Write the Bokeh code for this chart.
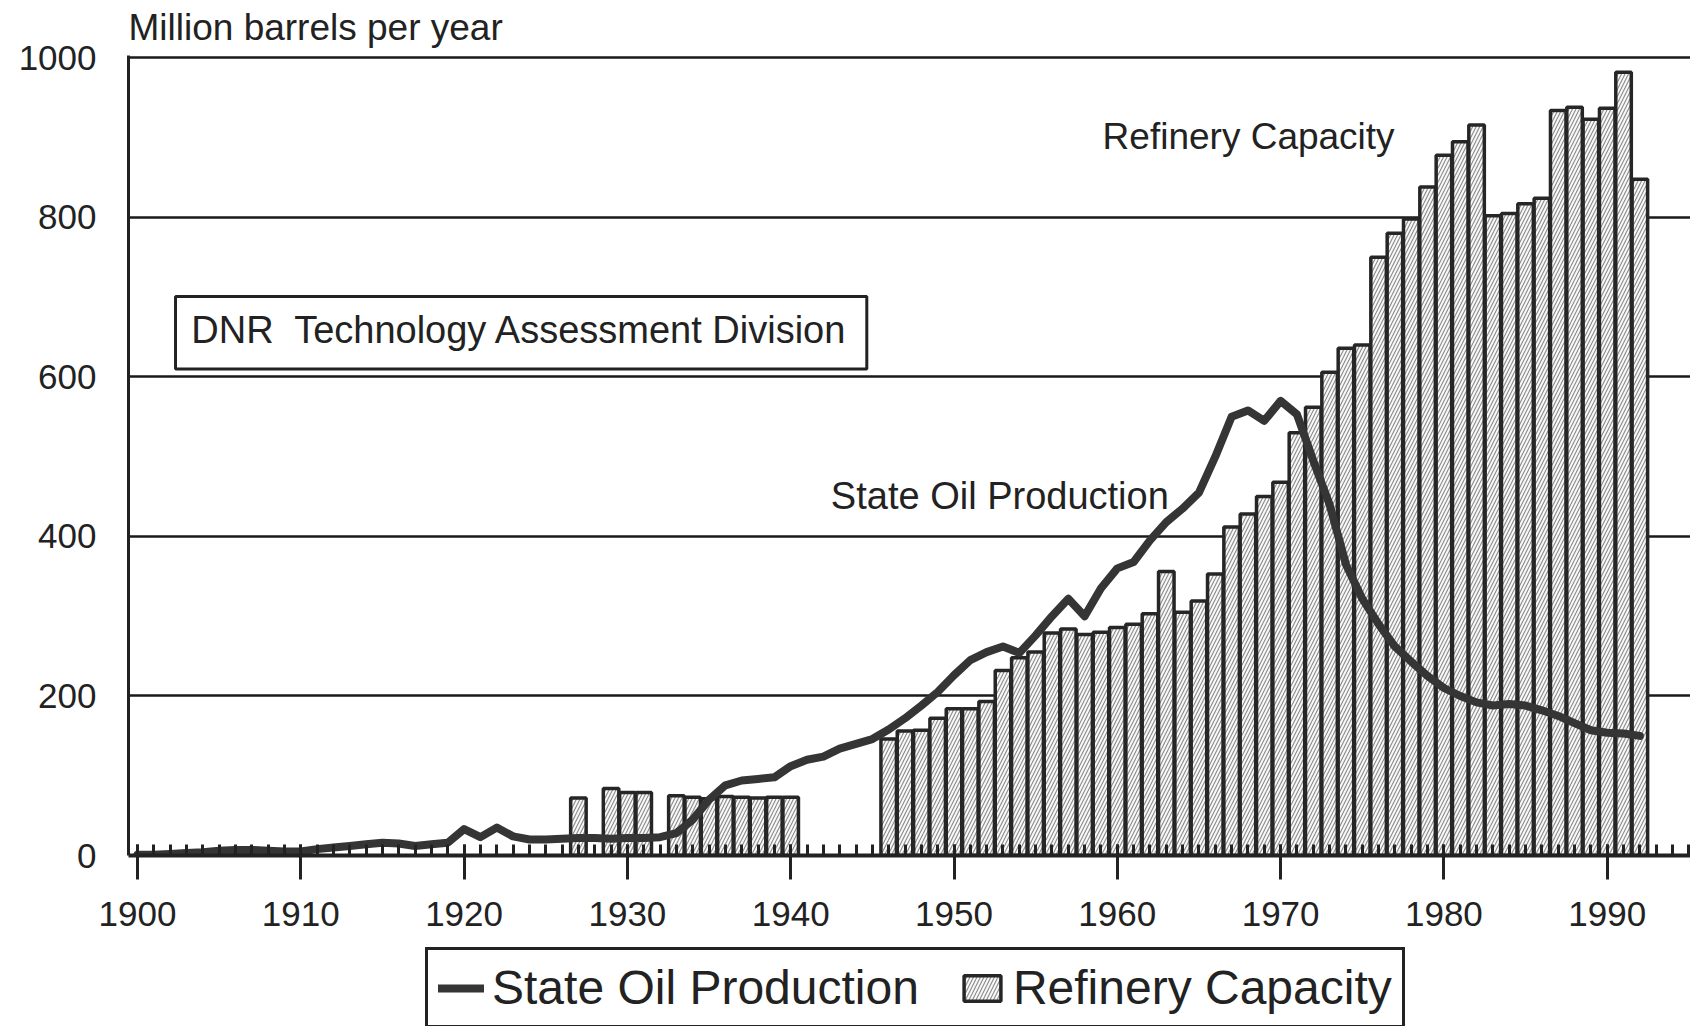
from bokeh.plotting import figure
from bokeh.models import (Range1d, ColumnDataSource, Label, BoxAnnotation,
                          Legend, LegendItem, FixedTicker)
from bokeh.layouts import column
from bokeh.embed import file_html
from bokeh.resources import INLINE

# ---------------- data ----------------
prod_years = list(range(1900, 1993))
prod_values = [1, 1, 2, 3, 4, 6, 7, 7, 6, 5,
               5, 8, 10, 12, 14, 16, 15, 12, 14, 16,
               33, 23, 35, 24, 20, 20, 21, 22, 22, 21,
               22, 22, 23, 28, 45, 70, 88, 94, 96, 98,
               112, 120, 124, 134, 140, 146, 158, 172, 188, 205,
               226, 245, 255, 262, 254, 276, 300, 322, 300, 335,
               360, 368, 395, 418, 435, 455, 500, 550, 558, 545,
               570, 553, 495, 440, 365, 322, 290, 262, 243, 225,
               210, 200, 192, 188, 190, 188, 182, 175, 166, 157,
               154, 153, 150]

cap_years = [1927, 1929, 1930, 1931, 1933, 1934, 1935, 1936, 1937, 1938, 1939, 1940,
             1946, 1947, 1948, 1949, 1950, 1951, 1952, 1953, 1954, 1955, 1956, 1957,
             1958, 1959, 1960, 1961, 1962, 1963, 1964, 1965, 1966, 1967, 1968, 1969,
             1970, 1971, 1972, 1973, 1974, 1975, 1976, 1977, 1978, 1979, 1980, 1981,
             1982, 1983, 1984, 1985, 1986, 1987, 1988, 1989, 1990, 1991, 1992]
cap_values = [72, 84, 79, 79, 75, 73, 71, 74, 73, 72, 73, 73,
              146, 156, 157, 172, 184, 184, 193, 232, 248, 255, 279, 284,
              277, 280, 286, 290, 303, 356, 305, 319, 353, 412, 428, 450,
              468, 530, 562, 606, 636, 640, 750, 780, 798, 838, 878, 895,
              916, 802, 805, 817, 824, 934, 938, 923, 937, 982, 848]

x_major_ticks = [1900, 1910, 1920, 1930, 1940, 1950, 1960, 1970, 1980, 1990]
x_minor_ticks = list(range(1900, 1996))
y_ticks = [0, 200, 400, 600, 800, 1000]
grid_ticks = [200, 400, 600, 800, 1000]

FONT = "Liberation Sans"
INK = "#222222"
LINE_STYLE = dict(line_width=8, line_color="#353535", line_join="round", line_cap="round")
BAR_STYLE = dict(fill_color="#f8f8f8", line_color="#262626", line_width=3.5,
                 hatch_pattern="/", hatch_color="#8a8a8a", hatch_scale=7,
                 hatch_weight=1.1)

p = figure(width=1690, height=945,
           x_range=Range1d(1899.45, 1995.1), y_range=Range1d(0, 1003),
           output_backend="svg", toolbar_location=None,
           min_border_left=128, min_border_right=0, min_border_top=55,
           min_border_bottom=90,
           title="Million barrels per year")
p.background_fill_color = "white"
p.border_fill_color = "white"
p.outline_line_color = None

p.title.text_font = FONT
p.title.text_font_size = "37px"
p.title.text_font_style = "normal"
p.title.text_color = INK
p.title.align = "left"
p.title.standoff = 12
p.title.text_line_height = 1.0
p.title.vertical_align = "top"

# axes
xa = p.xaxis[0]
xa.ticker = FixedTicker(ticks=x_major_ticks, minor_ticks=x_minor_ticks)
xa.axis_line_width = 4
xa.axis_line_color = INK
xa.major_tick_line_width = 3
xa.major_tick_line_color = INK
xa.major_tick_out = 24
xa.major_tick_in = 11
xa.minor_tick_line_width = 3
xa.minor_tick_line_color = INK
xa.minor_tick_out = 0
xa.minor_tick_in = 11
xa.major_label_text_font = FONT
xa.major_label_text_font_size = "35px"
xa.major_label_text_color = INK
xa.major_label_standoff = 22

ya = p.yaxis[0]
ya.ticker = FixedTicker(ticks=y_ticks)
ya.axis_line_width = 3
ya.axis_line_color = INK
ya.major_tick_out = 0
ya.major_tick_in = 0
ya.minor_tick_line_color = None
ya.major_label_text_font = FONT
ya.major_label_text_font_size = "35px"
ya.major_label_text_color = INK
ya.major_label_standoff = 32

p.xgrid.visible = False
p.ygrid.ticker = FixedTicker(ticks=grid_ticks)
p.ygrid.grid_line_color = "#1a1a1a"
p.ygrid.grid_line_width = 2.5

# bars
cap_src = ColumnDataSource(data=dict(year=cap_years, cap=cap_values))
p.vbar(x="year", top="cap", width=0.95, bottom=0, source=cap_src, **BAR_STYLE)

# line
prod_src = ColumnDataSource(data=dict(year=prod_years, prod=prod_values))
p.line(x="year", y="prod", source=prod_src, **LINE_STYLE)

# annotations
box = BoxAnnotation(left=1902.33, right=1944.66, bottom=610, top=701,
                    fill_color="white", fill_alpha=1.0,
                    line_color=INK, line_alpha=1.0, line_width=3,
                    level="annotation")
p.add_layout(box)
p.add_layout(Label(x=1903.3, y=659, text="DNR\u00a0 Technology Assessment Division",
                   text_font=FONT, text_font_size="38px", text_color=INK,
                   text_baseline="alphabetic"))
p.add_layout(Label(x=1942.46, y=451, text="State Oil Production",
                   text_font=FONT, text_font_size="38px", text_color=INK,
                   text_baseline="alphabetic"))
p.add_layout(Label(x=1959.1, y=902, text="Refinery Capacity",
                   text_font=FONT, text_font_size="37px", text_color=INK,
                   text_baseline="alphabetic"))

# ---------------- legend strip below ----------------
q = figure(width=1690, height=81, x_range=Range1d(0, 1), y_range=Range1d(0, 1),
           output_backend="svg", toolbar_location=None,
           x_axis_location=None, y_axis_location=None,
           min_border_left=0, min_border_right=0, min_border_top=0,
           min_border_bottom=0)
q.outline_line_color = None
q.xgrid.visible = False
q.ygrid.visible = False
q.background_fill_color = "white"
q.border_fill_color = "white"
# stand-in renderers with no drawable points, only for the legend swatches
nan = float("nan")
leg_line = q.line(x=[nan, nan], y=[nan, nan], **LINE_STYLE)
leg_bar = q.vbar(x=[nan], top=[nan], bottom=0, width=0.5, **BAR_STYLE)

legend = Legend(items=[LegendItem(label="State Oil Production", renderers=[leg_line]),
                       LegendItem(label="Refinery Capacity", renderers=[leg_bar])],
                location=(297, -2), orientation="horizontal")
legend.label_text_font = FONT
legend.label_text_font_size = "48px"
legend.label_text_color = INK
legend.label_standoff = 8
legend.glyph_width = 46
legend.glyph_height = 32
legend.spacing = 40
legend.padding = 10
legend.margin = 0
legend.border_line_color = INK
legend.border_line_alpha = 1.0
legend.border_line_width = 3
legend.background_fill_color = "white"
q.add_layout(legend, "center")

layout = column(p, q, spacing=0)
open("out.html", "w").write(file_html(layout, INLINE))
